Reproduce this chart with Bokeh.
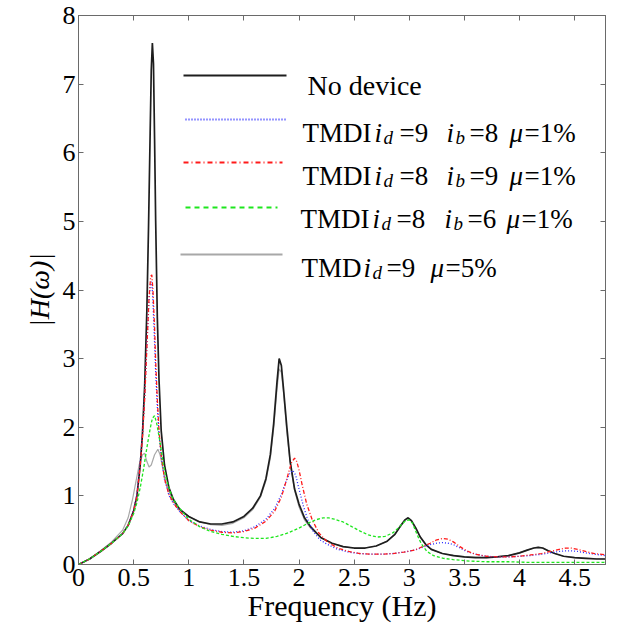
from bokeh.plotting import figure
from bokeh.models import Range1d, FixedTicker, LinearAxis, Label, Arrow
from bokeh.embed import file_html
from bokeh.resources import INLINE

# ---------------- data ----------------
f_nodev = [0, 0.1, 0.2, 0.3, 0.4, 0.45, 0.5, 0.53, 0.56, 0.58, 0.6, 0.62, 0.635, 0.65, 0.66, 0.67,
           0.68, 0.69, 0.70, 0.715, 0.73, 0.75, 0.78, 0.82, 0.86, 0.92, 1.0, 1.1, 1.2, 1.3, 1.4, 1.5,
           1.58, 1.65, 1.7, 1.74, 1.77, 1.80, 1.82, 1.84, 1.86, 1.89, 1.92, 1.96, 2.0, 2.05, 2.1, 2.2,
           2.3, 2.4, 2.5, 2.6, 2.7, 2.8, 2.87, 2.92, 2.96, 2.99, 3.02, 3.06, 3.1, 3.15, 3.2, 3.3, 3.4,
           3.5, 3.6, 3.7, 3.8, 3.9, 4.0, 4.07, 4.13, 4.17, 4.21, 4.26, 4.32, 4.4, 4.5, 4.6, 4.7, 4.78]
h_nodev = [0, 0.08, 0.19, 0.31, 0.45, 0.57, 0.78, 1.0, 1.45, 1.9, 2.6, 3.7, 4.9, 6.3, 7.2, 7.6,
           7.3, 6.2, 5.0, 3.6, 2.7, 1.95, 1.45, 1.12, 0.95, 0.8, 0.7, 0.62, 0.59, 0.59, 0.62, 0.7,
           0.82, 1.0, 1.25, 1.6, 2.05, 2.65, 3.0, 2.9, 2.55, 2.0, 1.5, 1.1, 0.88, 0.68, 0.56, 0.39,
           0.31, 0.26, 0.24, 0.24, 0.27, 0.34, 0.44, 0.56, 0.65, 0.68, 0.64, 0.53, 0.4, 0.29, 0.22, 0.16, 0.13,
           0.11, 0.10, 0.10, 0.11, 0.13, 0.17, 0.21, 0.24, 0.25, 0.24, 0.2, 0.16, 0.12, 0.1, 0.09, 0.08, 0.08]

f_tmdi98 = [0, 0.1, 0.2, 0.3, 0.4, 0.45, 0.5, 0.53, 0.56, 0.58, 0.6, 0.62, 0.64, 0.652, 0.662, 0.672,
            0.685, 0.70, 0.715, 0.73, 0.75, 0.78, 0.82, 0.86, 0.92, 1.0, 1.1, 1.2, 1.3, 1.4, 1.5, 1.6,
            1.7, 1.78, 1.84, 1.88, 1.92, 1.945, 1.97, 2.0, 2.04, 2.08, 2.13, 2.19, 2.25, 2.35, 2.45,
            2.55, 2.65, 2.75, 2.85, 2.95, 3.05, 3.12, 3.19, 3.25, 3.3, 3.35, 3.4, 3.46, 3.52, 3.6, 3.7,
            3.8, 3.9, 4.0, 4.1, 4.2, 4.28, 4.36, 4.42, 4.47, 4.53, 4.6, 4.68, 4.78]
h_tmdi98 = [0, 0.08, 0.19, 0.31, 0.45, 0.57, 0.8, 1.03, 1.5, 1.9, 2.45, 3.2, 3.85, 4.08, 4.12, 3.95,
            3.45, 2.8, 2.3, 1.9, 1.58, 1.24, 1.01, 0.89, 0.77, 0.64, 0.56, 0.51, 0.48, 0.47, 0.49, 0.55,
            0.66, 0.82, 1.02, 1.2, 1.34, 1.37, 1.3, 1.1, 0.85, 0.65, 0.48, 0.36, 0.3, 0.22, 0.18,
            0.16, 0.15, 0.15, 0.16, 0.18, 0.21, 0.25, 0.29, 0.31, 0.32, 0.31, 0.29, 0.24, 0.19, 0.15, 0.12,
            0.11, 0.11, 0.12, 0.13, 0.15, 0.17, 0.19, 0.2, 0.2, 0.19, 0.17, 0.15, 0.13]

f_tmdi89 = [0, 0.1, 0.2, 0.3, 0.4, 0.45, 0.5, 0.53, 0.56, 0.58, 0.6, 0.62, 0.64, 0.655, 0.665, 0.675,
            0.69, 0.70, 0.715, 0.73, 0.75, 0.78, 0.82, 0.86, 0.92, 1.0, 1.1, 1.2, 1.3, 1.4, 1.5, 1.6,
            1.7, 1.78, 1.84, 1.89, 1.93, 1.96, 1.98, 2.0, 2.03, 2.07, 2.12, 2.18, 2.25, 2.35, 2.45,
            2.55, 2.65, 2.75, 2.85, 2.95, 3.05, 3.12, 3.19, 3.25, 3.3, 3.35, 3.4, 3.46, 3.52, 3.6, 3.7,
            3.8, 3.9, 4.0, 4.1, 4.2, 4.28, 4.36, 4.42, 4.47, 4.53, 4.6, 4.68, 4.78]
h_tmdi89 = [0, 0.08, 0.19, 0.31, 0.45, 0.57, 0.78, 1.0, 1.45, 1.85, 2.4, 3.15, 3.9, 4.2, 4.22, 4.0,
            3.45, 2.95, 2.4, 1.95, 1.6, 1.25, 1.02, 0.9, 0.77, 0.64, 0.55, 0.5, 0.47, 0.46, 0.48, 0.53,
            0.63, 0.78, 0.98, 1.25, 1.48, 1.55, 1.5, 1.38, 1.15, 0.88, 0.65, 0.46, 0.34, 0.24, 0.19,
            0.16, 0.15, 0.15, 0.16, 0.18, 0.21, 0.26, 0.31, 0.36, 0.38, 0.37, 0.33, 0.26, 0.2, 0.15, 0.12,
            0.11, 0.11, 0.12, 0.14, 0.16, 0.19, 0.22, 0.24, 0.24, 0.22, 0.19, 0.16, 0.14]

f_tmdi86 = [0, 0.1, 0.2, 0.3, 0.4, 0.45, 0.5, 0.53, 0.56, 0.59, 0.62, 0.65, 0.67, 0.69, 0.71, 0.74,
            0.77, 0.8, 0.85, 0.9, 1.0, 1.1, 1.2, 1.3, 1.4, 1.5, 1.6, 1.7, 1.8, 1.9, 2.0, 2.08, 2.15,
            2.22, 2.27, 2.32, 2.4, 2.47, 2.55, 2.63, 2.71, 2.78, 2.85, 2.9, 2.94, 2.97, 3.0, 3.03, 3.07,
            3.11, 3.16, 3.22, 3.31, 3.4, 3.55, 3.7, 3.9, 4.1, 4.3, 4.5, 4.78]
h_tmdi86 = [0, 0.08, 0.19, 0.31, 0.45, 0.56, 0.74, 0.9, 1.12, 1.39, 1.7, 1.98, 2.13, 2.17, 2.05, 1.78,
            1.45, 1.22, 0.98, 0.85, 0.66, 0.55, 0.48, 0.44, 0.41, 0.39, 0.38, 0.38, 0.41, 0.46, 0.53, 0.6, 0.65,
            0.68, 0.68, 0.66, 0.62, 0.56, 0.49, 0.43, 0.4, 0.41, 0.46, 0.53, 0.6, 0.64, 0.65, 0.6, 0.44,
            0.3, 0.19, 0.13, 0.09, 0.07, 0.05, 0.04, 0.04, 0.03, 0.03, 0.03, 0.03]

f_tmd = [0, 0.1, 0.2, 0.3, 0.4, 0.45, 0.49, 0.52, 0.55, 0.58, 0.6, 0.62, 0.64, 0.66, 0.69, 0.72, 0.74,
         0.77, 0.8, 0.85, 0.9, 1.0, 1.1, 1.2, 1.3, 1.4, 1.5, 1.58, 1.65, 1.7, 1.74, 1.77, 1.80, 1.82,
         1.84, 1.86, 1.89, 1.92, 1.96, 2.0, 2.05, 2.1, 2.2, 2.3, 2.4, 2.5, 2.6, 2.7, 2.8, 2.87, 2.92,
         2.96, 2.99, 3.02, 3.06, 3.1, 3.15, 3.2, 3.3, 3.5, 3.7, 3.9, 4.0, 4.07, 4.13, 4.17, 4.21, 4.26,
         4.32, 4.4, 4.5, 4.78]
h_tmd = [0, 0.08, 0.2, 0.33, 0.5, 0.68, 0.95, 1.2, 1.45, 1.6, 1.62, 1.5, 1.42, 1.45, 1.6, 1.68, 1.6,
         1.35, 1.15, 0.95, 0.84, 0.7, 0.62, 0.58, 0.57, 0.6, 0.68, 0.8, 0.98, 1.22, 1.55, 1.98, 2.55, 2.85,
         2.8, 2.5, 1.92, 1.48, 1.08, 0.84, 0.65, 0.54, 0.39, 0.31, 0.26, 0.24, 0.24, 0.27, 0.34, 0.44, 0.55,
         0.64, 0.67, 0.63, 0.52, 0.4, 0.29, 0.22, 0.16, 0.11, 0.10, 0.13, 0.17, 0.21, 0.24, 0.25, 0.24, 0.2,
         0.16, 0.12, 0.1, 0.08]

x_ticks = [0, 0.5, 1, 1.5, 2, 2.5, 3, 3.5, 4, 4.5]
x_tick_labels = ["0", "0.5", "1", "1.5", "2", "2.5", "3", "3.5", "4", "4.5"]
y_ticks = [0, 1, 2, 3, 4, 5, 6, 7, 8]

# ---------------- styles ----------------
SERIF = "Liberation Serif, Times New Roman, Tinos, DejaVu Serif, serif"
C_BLACK = "#1e1e1e"
C_BLUE = "#2a2aff"
C_RED = "#ff1a1a"
C_GREEN = "#1ee61e"
C_GRAY = "#a8a8a8"
C_AXIS = "#6a6a6a"

p = figure(width=612, height=640, x_range=Range1d(0, 4.78), y_range=Range1d(0, 8),
           output_backend="svg", toolbar_location=None,
           min_border_left=78, min_border_right=7, min_border_top=15, min_border_bottom=76)
p.background_fill_color = "white"
p.border_fill_color = "white"
p.outline_line_color = C_AXIS
p.grid.visible = False

# curves
p.line(f_tmd, h_tmd, line_color=C_GRAY, line_width=1.2)
p.line(f_nodev, h_nodev, line_color=C_BLACK, line_width=1.7)
p.line(f_tmdi98, h_tmdi98, line_color=C_BLUE, line_width=1.3, line_dash="1 2")
p.line(f_tmdi89, h_tmdi89, line_color=C_RED, line_width=1.3, line_dash="4 2 1 2")
p.line(f_tmdi86, h_tmdi86, line_color=C_GREEN, line_width=1.3, line_dash="3 2")

# axes
def style_axis(ax, ticks, labels=None):
    ax.ticker = FixedTicker(ticks=ticks)
    ax.axis_line_color = C_AXIS
    ax.major_tick_line_color = C_AXIS
    ax.minor_tick_line_color = None
    ax.major_tick_in = 5
    ax.major_tick_out = 0
    ax.major_label_text_font = SERIF
    ax.major_label_text_color = "black"
    if labels is None:
        ax.major_label_overrides = {t: "" for t in ticks}
        ax.major_label_text_font_size = "1px"
        ax.major_label_standoff = 0
    else:
        ax.major_label_overrides = {t: s for t, s in zip(ticks, labels)}
        ax.major_label_text_font_size = "26px"
        ax.major_label_standoff = 4

xa = p.xaxis[0]
style_axis(xa, x_ticks, x_tick_labels)
xa.axis_label = "Frequency (Hz)"
xa.axis_label_text_font = SERIF
xa.axis_label_text_font_style = "normal"
xa.axis_label_text_font_size = "30px"
xa.axis_label_text_color = "black"
xa.axis_label_standoff = 0

ya = p.yaxis[0]
style_axis(ya, y_ticks, [str(t) for t in y_ticks])
ya.major_label_standoff = 3
ya.axis_label = "|H(\u03c9)|"
ya.axis_label_text_font = SERIF
ya.axis_label_text_font_style = "italic"
ya.axis_label_text_font_size = "28px"
ya.axis_label_text_color = "black"
ya.axis_label_standoff = 5

top = LinearAxis()
style_axis(top, x_ticks)
p.add_layout(top, "above")
right = LinearAxis()
style_axis(right, y_ticks)
p.add_layout(right, "right")

# legend (drawn manually so that subscripts and italics can be shown)
LFS = "27px"
SFS = "19px"
leg_lines = [
    (105, 208, 489, C_BLACK, 2.0, "solid"),
    (107, 207, 445, C_BLUE, 1.8, "1 2"),
    (105, 204, 402, C_RED, 2.0, "5 3 1 3"),
    (107, 199, 357, C_GREEN, 2.0, "5 4"),
    (102, 204, 310, C_GRAY, 2.0, "solid"),
]
for x0, x1, yl, col, lw, dash in leg_lines:
    p.add_layout(Arrow(end=None, x_start=x0, y_start=yl, x_end=x1, y_end=yl,
                       start_units="screen", end_units="screen",
                       line_color=col, line_width=lw, line_dash=dash))

def frag(x, y, txt, style="normal", size=LFS):
    p.add_layout(Label(x=x, y=y, x_units="screen", y_units="screen", text=txt,
                       text_font=SERIF, text_font_style=style, text_font_size=size,
                       text_color="black", text_align="left", text_baseline="alphabetic"))

# row 1
frag(229, 479, "No device", size="28px")
# rows 2-4: TMDI i_d=.. i_b=.. mu=1%
rows = [
    (432, 224, 296, 305, 321, 368, 377, 391, 431, 446, "=9", "=8"),
    (389, 224, 296, 305, 321, 368, 377, 391, 431, 446, "=8", "=9"),
    (346, 222, 294, 303, 318, 366, 375, 389, 428, 443, "=8", "=6"),
]
for yb, xT, xi1, xd, xe1, xi2, xb, xe2, xmu, xe3, v1, v2 in rows:
    frag(xT, yb, "TMDI")
    frag(xi1, yb, "i", "italic")
    frag(xd, yb - 5, "d", "italic", SFS)
    frag(xe1, yb, v1)
    frag(xi2, yb, "i", "italic")
    frag(xb, yb - 5, "b", "italic", SFS)
    frag(xe2, yb, v2)
    frag(xmu, yb, "\u03bc", "italic")
    frag(xe3, yb, "=1%")
# row 5: TMD i_d=9 mu=5%
frag(223, 297, "TMD")
frag(285, 297, "i", "italic")
frag(294, 292, "d", "italic", SFS)
frag(308, 297, "=9")
frag(352, 297, "\u03bc", "italic")
frag(367, 297, "=5%")

open("out.html", "w").write(file_html(p, INLINE))
